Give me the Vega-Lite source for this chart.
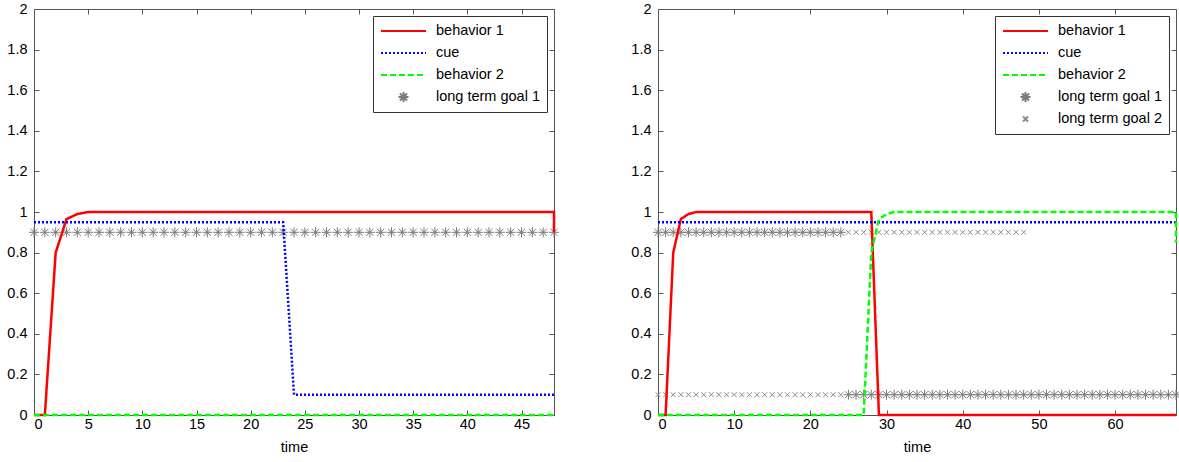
{
  "$schema": "https://vega.github.io/schema/vega-lite/v6.json",
  "padding": {"left": 6, "top": 0, "right": 3, "bottom": 0},
  "spacing": 68,
  "config": {
    "font": "Liberation Sans",
    "view": {"stroke": "#555555", "strokeWidth": 1},
    "axis": {"domain": false, "grid": false, "tickColor": "#555555", "tickSize": -5, "labelFontSize": 14.5, "labelColor": "#000000", "titleFontSize": 14.5, "titleFontWeight": "normal", "titleColor": "#000000"},
    "legend": {"orient": "top-right", "offset": 7, "title": null, "strokeColor": "#333333", "fillColor": "#ffffff", "padding": 7, "labelFontSize": 14.5, "labelColor": "#000000", "symbolSize": 2025, "clipHeight": 16, "rowPadding": 6, "labelOffset": 9, "symbolStrokeWidth": 2, "symbolOpacity": 1}
  },
  "datasets": {
    "leftLines": [
      {"series": "behavior 1", "time": 0, "value": 0}, {"series": "behavior 1", "time": 1, "value": 0}, {"series": "behavior 1", "time": 2, "value": 0.8}, {"series": "behavior 1", "time": 3, "value": 0.965}, {"series": "behavior 1", "time": 4, "value": 0.99}, {"series": "behavior 1", "time": 5, "value": 1}, {"series": "behavior 1", "time": 48, "value": 1}, {"series": "behavior 1", "time": 48, "value": 0.9},
      {"series": "cue", "time": 0, "value": 0.95}, {"series": "cue", "time": 23, "value": 0.95}, {"series": "cue", "time": 24, "value": 0.1}, {"series": "cue", "time": 48, "value": 0.1},
      {"series": "behavior 2", "time": 0, "value": 0}, {"series": "behavior 2", "time": 48, "value": 0}
    ],
    "leftGoals": [
      {"series": "long term goal 1", "time": 0, "value": 0.9}, {"series": "long term goal 1", "time": 1, "value": 0.9}, {"series": "long term goal 1", "time": 2, "value": 0.9}, {"series": "long term goal 1", "time": 3, "value": 0.9}, {"series": "long term goal 1", "time": 4, "value": 0.9}, {"series": "long term goal 1", "time": 5, "value": 0.9}, {"series": "long term goal 1", "time": 6, "value": 0.9}, {"series": "long term goal 1", "time": 7, "value": 0.9}, {"series": "long term goal 1", "time": 8, "value": 0.9}, {"series": "long term goal 1", "time": 9, "value": 0.9},
      {"series": "long term goal 1", "time": 10, "value": 0.9}, {"series": "long term goal 1", "time": 11, "value": 0.9}, {"series": "long term goal 1", "time": 12, "value": 0.9}, {"series": "long term goal 1", "time": 13, "value": 0.9}, {"series": "long term goal 1", "time": 14, "value": 0.9}, {"series": "long term goal 1", "time": 15, "value": 0.9}, {"series": "long term goal 1", "time": 16, "value": 0.9}, {"series": "long term goal 1", "time": 17, "value": 0.9}, {"series": "long term goal 1", "time": 18, "value": 0.9}, {"series": "long term goal 1", "time": 19, "value": 0.9},
      {"series": "long term goal 1", "time": 20, "value": 0.9}, {"series": "long term goal 1", "time": 21, "value": 0.9}, {"series": "long term goal 1", "time": 22, "value": 0.9}, {"series": "long term goal 1", "time": 23, "value": 0.9}, {"series": "long term goal 1", "time": 24, "value": 0.9}, {"series": "long term goal 1", "time": 25, "value": 0.9}, {"series": "long term goal 1", "time": 26, "value": 0.9}, {"series": "long term goal 1", "time": 27, "value": 0.9}, {"series": "long term goal 1", "time": 28, "value": 0.9}, {"series": "long term goal 1", "time": 29, "value": 0.9},
      {"series": "long term goal 1", "time": 30, "value": 0.9}, {"series": "long term goal 1", "time": 31, "value": 0.9}, {"series": "long term goal 1", "time": 32, "value": 0.9}, {"series": "long term goal 1", "time": 33, "value": 0.9}, {"series": "long term goal 1", "time": 34, "value": 0.9}, {"series": "long term goal 1", "time": 35, "value": 0.9}, {"series": "long term goal 1", "time": 36, "value": 0.9}, {"series": "long term goal 1", "time": 37, "value": 0.9}, {"series": "long term goal 1", "time": 38, "value": 0.9}, {"series": "long term goal 1", "time": 39, "value": 0.9},
      {"series": "long term goal 1", "time": 40, "value": 0.9}, {"series": "long term goal 1", "time": 41, "value": 0.9}, {"series": "long term goal 1", "time": 42, "value": 0.9}, {"series": "long term goal 1", "time": 43, "value": 0.9}, {"series": "long term goal 1", "time": 44, "value": 0.9}, {"series": "long term goal 1", "time": 45, "value": 0.9}, {"series": "long term goal 1", "time": 46, "value": 0.9}, {"series": "long term goal 1", "time": 47, "value": 0.9}, {"series": "long term goal 1", "time": 48, "value": 0.9}
    ],
    "rightLines": [
      {"series": "behavior 1", "time": 0, "value": 0}, {"series": "behavior 1", "time": 1, "value": 0}, {"series": "behavior 1", "time": 2, "value": 0.8}, {"series": "behavior 1", "time": 3, "value": 0.965}, {"series": "behavior 1", "time": 4, "value": 0.99}, {"series": "behavior 1", "time": 5, "value": 1}, {"series": "behavior 1", "time": 28, "value": 1}, {"series": "behavior 1", "time": 29, "value": 0}, {"series": "behavior 1", "time": 68, "value": 0},
      {"series": "cue", "time": 0, "value": 0.95}, {"series": "cue", "time": 68, "value": 0.95},
      {"series": "behavior 2", "time": 0, "value": 0}, {"series": "behavior 2", "time": 27, "value": 0}, {"series": "behavior 2", "time": 28, "value": 0.8}, {"series": "behavior 2", "time": 29, "value": 0.965}, {"series": "behavior 2", "time": 30, "value": 0.99}, {"series": "behavior 2", "time": 31, "value": 1}, {"series": "behavior 2", "time": 68, "value": 1}, {"series": "behavior 2", "time": 68, "value": 0.85}
    ],
    "rightGoals": [
      {"series": "long term goal 1", "time": 0, "value": 0.9}, {"series": "long term goal 1", "time": 1, "value": 0.9}, {"series": "long term goal 1", "time": 2, "value": 0.9}, {"series": "long term goal 1", "time": 3, "value": 0.9}, {"series": "long term goal 1", "time": 4, "value": 0.9}, {"series": "long term goal 1", "time": 5, "value": 0.9}, {"series": "long term goal 1", "time": 6, "value": 0.9}, {"series": "long term goal 1", "time": 7, "value": 0.9}, {"series": "long term goal 1", "time": 8, "value": 0.9}, {"series": "long term goal 1", "time": 9, "value": 0.9},
      {"series": "long term goal 1", "time": 10, "value": 0.9}, {"series": "long term goal 1", "time": 11, "value": 0.9}, {"series": "long term goal 1", "time": 12, "value": 0.9}, {"series": "long term goal 1", "time": 13, "value": 0.9}, {"series": "long term goal 1", "time": 14, "value": 0.9}, {"series": "long term goal 1", "time": 15, "value": 0.9}, {"series": "long term goal 1", "time": 16, "value": 0.9}, {"series": "long term goal 1", "time": 17, "value": 0.9}, {"series": "long term goal 1", "time": 18, "value": 0.9}, {"series": "long term goal 1", "time": 19, "value": 0.9},
      {"series": "long term goal 1", "time": 20, "value": 0.9}, {"series": "long term goal 1", "time": 21, "value": 0.9}, {"series": "long term goal 1", "time": 22, "value": 0.9}, {"series": "long term goal 1", "time": 23, "value": 0.9}, {"series": "long term goal 1", "time": 24, "value": 0.9},
      {"series": "long term goal 1", "time": 25, "value": 0.1}, {"series": "long term goal 1", "time": 26, "value": 0.1}, {"series": "long term goal 1", "time": 27, "value": 0.1}, {"series": "long term goal 1", "time": 28, "value": 0.1}, {"series": "long term goal 1", "time": 29, "value": 0.1},
      {"series": "long term goal 1", "time": 30, "value": 0.1}, {"series": "long term goal 1", "time": 31, "value": 0.1}, {"series": "long term goal 1", "time": 32, "value": 0.1}, {"series": "long term goal 1", "time": 33, "value": 0.1}, {"series": "long term goal 1", "time": 34, "value": 0.1}, {"series": "long term goal 1", "time": 35, "value": 0.1}, {"series": "long term goal 1", "time": 36, "value": 0.1}, {"series": "long term goal 1", "time": 37, "value": 0.1}, {"series": "long term goal 1", "time": 38, "value": 0.1}, {"series": "long term goal 1", "time": 39, "value": 0.1},
      {"series": "long term goal 1", "time": 40, "value": 0.1}, {"series": "long term goal 1", "time": 41, "value": 0.1}, {"series": "long term goal 1", "time": 42, "value": 0.1}, {"series": "long term goal 1", "time": 43, "value": 0.1}, {"series": "long term goal 1", "time": 44, "value": 0.1}, {"series": "long term goal 1", "time": 45, "value": 0.1}, {"series": "long term goal 1", "time": 46, "value": 0.1}, {"series": "long term goal 1", "time": 47, "value": 0.1}, {"series": "long term goal 1", "time": 48, "value": 0.1}, {"series": "long term goal 1", "time": 49, "value": 0.1},
      {"series": "long term goal 1", "time": 50, "value": 0.1}, {"series": "long term goal 1", "time": 51, "value": 0.1}, {"series": "long term goal 1", "time": 52, "value": 0.1}, {"series": "long term goal 1", "time": 53, "value": 0.1}, {"series": "long term goal 1", "time": 54, "value": 0.1}, {"series": "long term goal 1", "time": 55, "value": 0.1}, {"series": "long term goal 1", "time": 56, "value": 0.1}, {"series": "long term goal 1", "time": 57, "value": 0.1}, {"series": "long term goal 1", "time": 58, "value": 0.1}, {"series": "long term goal 1", "time": 59, "value": 0.1},
      {"series": "long term goal 1", "time": 60, "value": 0.1}, {"series": "long term goal 1", "time": 61, "value": 0.1}, {"series": "long term goal 1", "time": 62, "value": 0.1}, {"series": "long term goal 1", "time": 63, "value": 0.1}, {"series": "long term goal 1", "time": 64, "value": 0.1}, {"series": "long term goal 1", "time": 65, "value": 0.1}, {"series": "long term goal 1", "time": 66, "value": 0.1}, {"series": "long term goal 1", "time": 67, "value": 0.1}, {"series": "long term goal 1", "time": 68, "value": 0.1},
      {"series": "long term goal 2", "time": 0, "value": 0.1}, {"series": "long term goal 2", "time": 1, "value": 0.1}, {"series": "long term goal 2", "time": 2, "value": 0.1}, {"series": "long term goal 2", "time": 3, "value": 0.1}, {"series": "long term goal 2", "time": 4, "value": 0.1}, {"series": "long term goal 2", "time": 5, "value": 0.1}, {"series": "long term goal 2", "time": 6, "value": 0.1}, {"series": "long term goal 2", "time": 7, "value": 0.1}, {"series": "long term goal 2", "time": 8, "value": 0.1}, {"series": "long term goal 2", "time": 9, "value": 0.1},
      {"series": "long term goal 2", "time": 10, "value": 0.1}, {"series": "long term goal 2", "time": 11, "value": 0.1}, {"series": "long term goal 2", "time": 12, "value": 0.1}, {"series": "long term goal 2", "time": 13, "value": 0.1}, {"series": "long term goal 2", "time": 14, "value": 0.1}, {"series": "long term goal 2", "time": 15, "value": 0.1}, {"series": "long term goal 2", "time": 16, "value": 0.1}, {"series": "long term goal 2", "time": 17, "value": 0.1}, {"series": "long term goal 2", "time": 18, "value": 0.1}, {"series": "long term goal 2", "time": 19, "value": 0.1},
      {"series": "long term goal 2", "time": 20, "value": 0.1}, {"series": "long term goal 2", "time": 21, "value": 0.1}, {"series": "long term goal 2", "time": 22, "value": 0.1}, {"series": "long term goal 2", "time": 23, "value": 0.1}, {"series": "long term goal 2", "time": 24, "value": 0.1},
      {"series": "long term goal 2", "time": 25, "value": 0.9}, {"series": "long term goal 2", "time": 26, "value": 0.9}, {"series": "long term goal 2", "time": 27, "value": 0.9}, {"series": "long term goal 2", "time": 28, "value": 0.9}, {"series": "long term goal 2", "time": 29, "value": 0.9},
      {"series": "long term goal 2", "time": 30, "value": 0.9}, {"series": "long term goal 2", "time": 31, "value": 0.9}, {"series": "long term goal 2", "time": 32, "value": 0.9}, {"series": "long term goal 2", "time": 33, "value": 0.9}, {"series": "long term goal 2", "time": 34, "value": 0.9}, {"series": "long term goal 2", "time": 35, "value": 0.9}, {"series": "long term goal 2", "time": 36, "value": 0.9}, {"series": "long term goal 2", "time": 37, "value": 0.9}, {"series": "long term goal 2", "time": 38, "value": 0.9}, {"series": "long term goal 2", "time": 39, "value": 0.9},
      {"series": "long term goal 2", "time": 40, "value": 0.9}, {"series": "long term goal 2", "time": 41, "value": 0.9}, {"series": "long term goal 2", "time": 42, "value": 0.9}, {"series": "long term goal 2", "time": 43, "value": 0.9}, {"series": "long term goal 2", "time": 44, "value": 0.9}, {"series": "long term goal 2", "time": 45, "value": 0.9}, {"series": "long term goal 2", "time": 46, "value": 0.9}, {"series": "long term goal 2", "time": 47, "value": 0.9}, {"series": "long term goal 2", "time": 48, "value": 0.9}
    ]
  },
  "hconcat": [
    {
      "width": 520,
      "height": 406,
      "layer": [
        {
          "data": {"name": "leftGoals"},
          "mark": {"type": "point", "filled": false, "size": 2025, "strokeWidth": 1, "opacity": 1},
          "encoding": {
            "x": {"field": "time", "type": "quantitative", "scale": {"domain": [0, 48], "nice": false, "zero": false}, "axis": {"orient": "top", "values": [0, 5, 10, 15, 20, 25, 30, 35, 40, 45], "labels": false, "title": null}},
            "y": {"field": "value", "type": "quantitative", "scale": {"domain": [0, 2], "nice": false}, "axis": {"orient": "right", "values": [0, 0.2, 0.4, 0.6, 0.8, 1, 1.2, 1.4, 1.6, 1.8, 2], "labels": false, "title": null}},
            "color": {"field": "series", "type": "nominal", "scale": {"domain": ["behavior 1", "cue", "behavior 2", "long term goal 1"], "range": ["#ff0000", "#0000ff", "#00ff00", "#7a7a7a"]}},
            "shape": {"field": "series", "type": "nominal", "scale": {"domain": ["behavior 1", "cue", "behavior 2", "long term goal 1"], "range": ["stroke", "stroke", "stroke", "M-0.222,0L0.222,0M0,-0.222L0,0.222M-0.157,-0.157L0.157,0.157M-0.157,0.157L0.157,-0.157"]}}
          }
        },
        {
          "data": {"name": "leftLines"},
          "mark": {"type": "line", "strokeWidth": 2.5},
          "encoding": {
            "x": {"field": "time", "type": "quantitative", "title": "time", "axis": {"orient": "bottom", "values": [0, 5, 10, 15, 20, 25, 30, 35, 40, 45], "labelPadding": 7, "titlePadding": 10}},
            "y": {"field": "value", "type": "quantitative", "title": null, "axis": {"orient": "left", "values": [0, 0.2, 0.4, 0.6, 0.8, 1, 1.2, 1.4, 1.6, 1.8, 2], "format": "~g", "labelPadding": 12}},
            "color": {"field": "series", "type": "nominal"},
            "strokeDash": {"field": "series", "type": "nominal", "scale": {"domain": ["behavior 1", "cue", "behavior 2", "long term goal 1"], "range": [[1, 0], [2, 2], [6, 3], [1, 0]]}},
            "order": {"value": null}
          }
        }
      ],
      "resolve": {"axis": {"x": "independent", "y": "independent"}}
    },
    {
      "width": 518,
      "height": 406,
      "layer": [
        {
          "data": {"name": "rightGoals"},
          "mark": {"type": "point", "filled": false, "size": 2025, "strokeWidth": 1, "opacity": 1},
          "encoding": {
            "x": {"field": "time", "type": "quantitative", "scale": {"domain": [0, 68], "nice": false, "zero": false}, "axis": {"orient": "top", "values": [0, 10, 20, 30, 40, 50, 60], "labels": false, "title": null}},
            "y": {"field": "value", "type": "quantitative", "scale": {"domain": [0, 2], "nice": false}, "axis": {"orient": "right", "values": [0, 0.2, 0.4, 0.6, 0.8, 1, 1.2, 1.4, 1.6, 1.8, 2], "labels": false, "title": null}},
            "color": {"field": "series", "type": "nominal", "scale": {"domain": ["behavior 1", "cue", "behavior 2", "long term goal 1", "long term goal 2"], "range": ["#ff0000", "#0000ff", "#00ff00", "#7a7a7a", "#8a8a8a"]}},
            "shape": {"field": "series", "type": "nominal", "scale": {"domain": ["behavior 1", "cue", "behavior 2", "long term goal 1", "long term goal 2"], "range": ["stroke", "stroke", "stroke", "M-0.222,0L0.222,0M0,-0.222L0,0.222M-0.157,-0.157L0.157,0.157M-0.157,0.157L0.157,-0.157", "M-0.111,-0.111L0.111,0.111M-0.111,0.111L0.111,-0.111"]}}
          }
        },
        {
          "data": {"name": "rightLines"},
          "mark": {"type": "line", "strokeWidth": 2.5},
          "encoding": {
            "x": {"field": "time", "type": "quantitative", "title": "time", "axis": {"orient": "bottom", "values": [0, 10, 20, 30, 40, 50, 60], "labelPadding": 7, "titlePadding": 10}},
            "y": {"field": "value", "type": "quantitative", "title": null, "axis": {"orient": "left", "values": [0, 0.2, 0.4, 0.6, 0.8, 1, 1.2, 1.4, 1.6, 1.8, 2], "format": "~g", "labelPadding": 12}},
            "color": {"field": "series", "type": "nominal"},
            "strokeDash": {"field": "series", "type": "nominal", "scale": {"domain": ["behavior 1", "cue", "behavior 2", "long term goal 1", "long term goal 2"], "range": [[1, 0], [2, 2], [6, 3], [1, 0], [1, 0]]}},
            "order": {"value": null}
          }
        }
      ],
      "resolve": {"axis": {"x": "independent", "y": "independent"}}
    }
  ],
  "resolve": {"scale": {"x": "independent", "y": "independent", "color": "independent", "shape": "independent", "strokeDash": "independent"}, "legend": {"color": "independent", "shape": "independent", "strokeDash": "independent"}}
}
